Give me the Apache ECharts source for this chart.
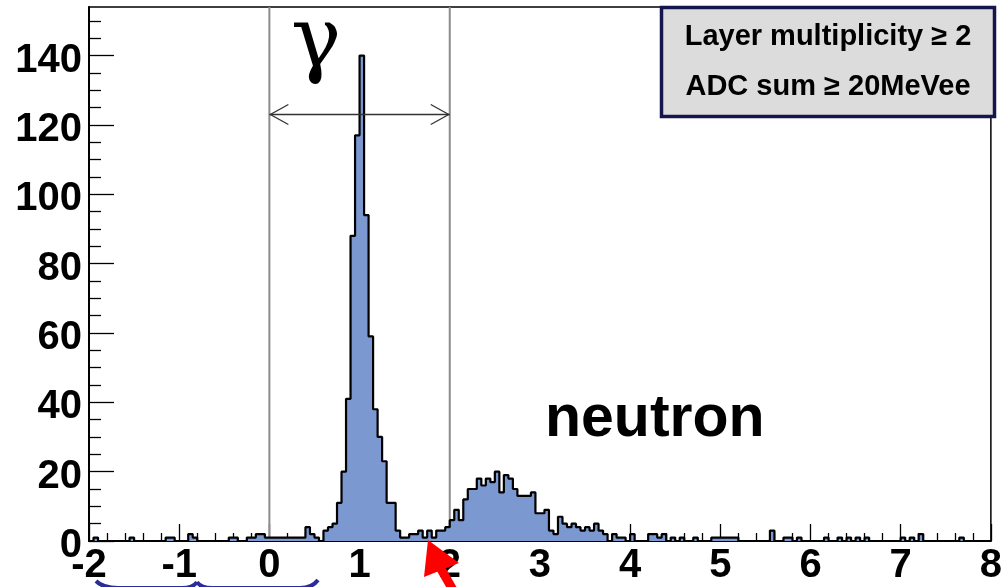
<!DOCTYPE html>
<html><head><meta charset="utf-8">
<script src="https://cdn.jsdelivr.net/npm/echarts@6/dist/echarts.min.js"></script>
<style>html,body{margin:0;padding:0;background:#fff}#c{width:1005px;height:587px}</style>
</head><body><div id="c"></div>
<script>
// ---- data ----
const binStart = -2;
const binWidth = 0.05;
const counts = [
  0,1,0,0,0,0,0,0,0,1,
  0,0,0,0,0,0,0,1,1,0,
  0,0,2,1,0,0,0,0,0,0,
  0,1,1,0,0,1,1,2,2,1,
  1,1,1,1,1,1,1,1,4,2,
  1,0,3,4,5,11,20,41,88,117,
  140,94,59,38,30,23,11,11,3,1,
  1,2,2,3,1,3,1,3,3,4,
  6,9,6,12,15,15,18,16,18,17,
  20,14,19,18,15,13,13,13,14,8,
  8,9,3,2,7,5,4,5,4,3,
  4,3,5,3,2,0,2,1,1,0,
  2,0,0,0,2,2,1,2,0,1,
  0,1,0,0,1,0,0,0,1,1,
  1,1,1,1,0,0,0,0,0,0,
  0,3,0,0,1,1,0,1,0,0,
  0,0,0,1,0,0,1,0,1,0,
  1,0,1,0,0,0,0,0,0,0,
  1,0,1,0,2,0,0,0,0,0,
  0,0,0,1,0,0,0,0,0,0
];
const xRange = [-2, 8];
const yRange = [0, 154];
const yMajorTicks = [0,20,40,60,80,100,120,140];
const yMinorTicks = [5,10,15,25,30,35,45,50,55,65,70,75,85,90,95,105,110,115,125,130,135,145,150];
const gammaWindow = [0, 2];
const gammaArrowY = 123;
const boxLines = ['Layer multiplicity \u2265 2', 'ADC sum \u2265 20MeVee'];
const gammaLabel = '\u03b3';
const neutronLabel = 'neutron';

// ---- chart ----
const FONT = '"Liberation Sans", Arial, Helvetica, sans-serif';
const histData = counts.map((c, i) => [binStart + i * binWidth, c]);
histData.push([binStart + counts.length * binWidth, counts[counts.length - 1]]);

const chart = echarts.init(document.getElementById('c'), null, {renderer: 'canvas'});
const tickStyle = {color: '#000', width: 1.3};
const braceStyle = {fill: null, stroke: '#2b2b9c', lineWidth: 4};
const option = {
  animation: false,
  grid: {left: 89, right: 7, top: 7, bottom: 46, show: true, borderColor: '#000', borderWidth: 1.5, backgroundColor: 'transparent'},
  xAxis: {
    type: 'value', min: xRange[0], max: xRange[1], interval: 1,
    axisLine: {show: true, onZero: false, lineStyle: {color: '#000', width: 2}},
    axisTick: {show: true, inside: true, length: 17, lineStyle: tickStyle},
    minorTick: {show: true, splitNumber: 5, length: 8, lineStyle: tickStyle},
    splitLine: {show: false},
    axisLabel: {color: '#000', fontWeight: 'bold', fontSize: 40, fontFamily: FONT, margin: 5, showMinLabel: true, showMaxLabel: true}
  },
  yAxis: [{
    type: 'value', min: yRange[0], max: yRange[1], position: 'left',
    axisLine: {show: true, onZero: false, lineStyle: {color: '#000', width: 2}},
    axisTick: {show: true, inside: true, length: 25, customValues: yMajorTicks, lineStyle: tickStyle},
    axisLabel: {customValues: yMajorTicks, margin: 7, formatter: '{a|{value}}',
      rich: {a: {color: '#000', fontWeight: 'bold', fontSize: 40, fontFamily: FONT, padding: [10, 0, 0, 0]}}},
    splitLine: {show: false}
  }, {
    type: 'value', min: yRange[0], max: yRange[1], position: 'left',
    axisLine: {show: false, onZero: false},
    axisTick: {show: true, inside: true, length: 12, customValues: yMinorTicks, lineStyle: tickStyle},
    axisLabel: {show: false},
    splitLine: {show: false}
  }],
  series: [
    {type: 'line', z: 1, silent: true, symbol: 'none', data: [[gammaWindow[0], yRange[0]], [gammaWindow[0], yRange[1]]], lineStyle: {color: '#8c8c8c', width: 2}},
    {type: 'line', z: 1, silent: true, symbol: 'none', data: [[gammaWindow[1], yRange[0]], [gammaWindow[1], yRange[1]]], lineStyle: {color: '#8c8c8c', width: 2}},
    {type: 'line', z: 2, data: histData, step: 'end', symbol: 'none',
     lineStyle: {color: '#000', width: 2.2}, areaStyle: {color: '#7b98d1', opacity: 1}},
    {type: 'custom', z: 3, silent: true, data: [[gammaWindow[0], gammaWindow[1], gammaArrowY]],
     renderItem: function (params, api) {
       const a = api.coord([api.value(0), api.value(2)]);
       const b = api.coord([api.value(1), api.value(2)]);
       const st = {stroke: '#333', lineWidth: 1.3, fill: null};
       return {type: 'group', children: [
         {type: 'line', shape: {x1: a[0], y1: a[1], x2: b[0], y2: b[1]}, style: st},
         {type: 'polyline', shape: {points: [[a[0] + 19, a[1] - 10], [a[0] + 1, a[1]], [a[0] + 19, a[1] + 10]]}, style: st},
         {type: 'polyline', shape: {points: [[b[0] - 19, b[1] - 10], [b[0] - 1, b[1]], [b[0] - 19, b[1] + 10]]}, style: st}
       ]};
     }}
  ],
  graphic: [
    {type: 'text', x: 291, y: 2, z: 10, style: {text: gammaLabel, font: '84px "DejaVu Serif", "Liberation Serif", serif', fill: '#000'}},
    {type: 'text', x: 545, y: 390, z: 10, style: {text: neutronLabel, font: 'bold 59px ' + FONT, fill: '#000'}},
    {type: 'rect', z: 10, shape: {x: 661.5, y: 7.5, width: 333, height: 109}, style: {fill: '#dcdcdc', stroke: '#16164f', lineWidth: 3.5}},
    {type: 'text', z: 11, x: 828, y: 37, style: {text: boxLines[0], font: 'bold 29px ' + FONT, fill: '#000', align: 'center', verticalAlign: 'middle'}},
    {type: 'text', z: 11, x: 828, y: 87, style: {text: boxLines[1], font: 'bold 29px ' + FONT, fill: '#000', align: 'center', verticalAlign: 'middle'}},
    {type: 'bezierCurve', z: 10, shape: {x1: 96, y1: 581, cpx1: 103, cpy1: 588, x2: 118, y2: 588}, style: braceStyle},
    {type: 'line', z: 10, shape: {x1: 118, y1: 588, x2: 182, y2: 588}, style: braceStyle},
    {type: 'bezierCurve', z: 10, shape: {x1: 182, y1: 588, cpx1: 193, cpy1: 588, x2: 197, y2: 582}, style: braceStyle},
    {type: 'bezierCurve', z: 10, shape: {x1: 197, y1: 582, cpx1: 201, cpy1: 588, x2: 212, y2: 588}, style: braceStyle},
    {type: 'line', z: 10, shape: {x1: 212, y1: 588, x2: 300, y2: 588}, style: braceStyle},
    {type: 'bezierCurve', z: 10, shape: {x1: 300, y1: 588, cpx1: 312, cpy1: 588, x2: 318, y2: 580}, style: braceStyle},
    {type: 'polygon', z: 10, shape: {points: [[428, 540], [424, 577], [459, 563]]}, style: {fill: '#ff0000'}},
    {type: 'line', z: 10, shape: {x1: 441, y1: 569, x2: 453, y2: 590}, style: {stroke: '#ff0000', lineWidth: 9}}
  ]
};
chart.setOption(option);
</script>
</body></html>
